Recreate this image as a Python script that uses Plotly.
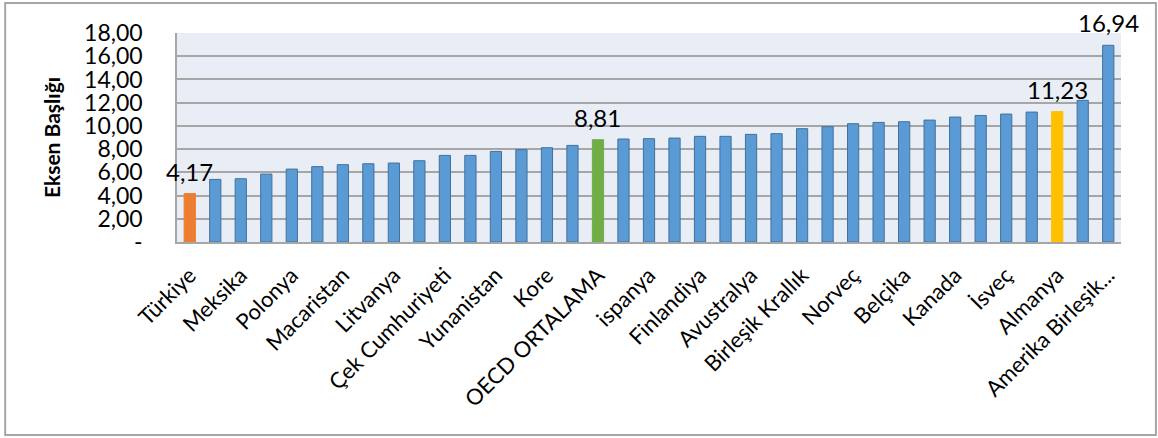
import plotly.graph_objects as go

categories = [
    "Türkiye", "Estonya", "Meksika", "Lüksemburg", "Polonya", "Letonya",
    "Macaristan", "Şili", "Litvanya", "Slovakya", "Çek Cumhuriyeti", "İsrail",
    "Yunanistan", "İrlanda", "Kore", "Slovenya", "OECD ORTALAMA", "İtalya",
    "ispanya", "Portekiz", "Finlandiya", "İzlanda", "Avustralya", "Japonya",
    "Birleşik Krallık", "Yeni Zelanda", "Norveç", "Avusturya", "Belçika",
    "Danimarka", "Kanada", "Fransa", "İsveç", "Hollanda", "Almanya", "İsviçre",
    "Amerika Birleşik Devletleri",
]
values = [
    4.17, 5.39, 5.45, 5.85, 6.28, 6.49, 6.66, 6.74, 6.80, 7.00, 7.46, 7.46,
    7.80, 7.95, 8.12, 8.32, 8.81, 8.87, 8.90, 8.95, 9.10, 9.10, 9.27, 9.33,
    9.76, 9.93, 10.19, 10.30, 10.36, 10.50, 10.76, 10.90, 11.02, 11.19, 11.23,
    12.20, 16.94,
]
# labels shown on the axis (every other category)
shown_ticks = categories[::2]
shown_text = [c if c != "Amerika Birleşik Devletleri" else "Amerika Birleşik..." for c in shown_ticks]
highlight = {"Türkiye": "#ED7D31", "OECD ORTALAMA": "#70AD47", "Almanya": "#FFC000"}
labelled = ["Türkiye", "OECD ORTALAMA", "Almanya", "Amerika Birleşik Devletleri"]
y_ticks = [0, 2, 4, 6, 8, 10, 12, 14, 16, 18]
y_ticktext = ["-", "2,00", "4,00", "6,00", "8,00", "10,00", "12,00", "14,00", "16,00", "18,00"]

colors = [highlight.get(c, "#5B9BD5") for c in categories]
lines = [highlight.get(c, "#41719C") for c in categories]

FONT = "Lato, 'Open Sans', sans-serif"

fig = go.Figure(go.Bar(
    x=categories, y=values,
    marker=dict(color=colors, line=dict(color=lines, width=1)),
    hoverinfo="x+y",
))

for c in labelled:
    v = values[categories.index(c)]
    fig.add_annotation(x=c, y=v, text=f"{v:.2f}".replace(".", ","),
                       showarrow=False, yanchor="bottom", yshift=6,
                       font=dict(family=FONT, size=24, color="#000000"))

# outer chart border
fig.add_shape(type="rect", xref="paper", yref="paper",
              x0=-0.182, x1=1.037, y0=-0.923, y1=1.143,
              line=dict(color="#A6A6A6", width=2), fillcolor="rgba(0,0,0,0)", layer="below")

fig.update_layout(
    width=1158, height=438,
    margin=dict(l=177, r=37, t=33, b=196, autoexpand=False),
    paper_bgcolor="#FFFFFF",
    plot_bgcolor="#E9EDF5",
    bargap=0.56,
    showlegend=False,
    font=dict(family=FONT, color="#000000"),
)
fig.update_xaxes(
    tickmode="array", tickvals=shown_ticks, ticktext=shown_text,
    tickangle=-45, tickfont=dict(family=FONT, size=22),
    showline=True, linecolor="#A6A6A6", linewidth=1.5,
    ticks="", showgrid=False, ticklabelstandoff=10, automargin=False,
    range=[-0.5, len(categories) - 0.5],
)
fig.update_yaxes(
    range=[0, 18], tickmode="array", tickvals=y_ticks, ticktext=y_ticktext,
    tickfont=dict(family=FONT, size=23),
    gridcolor="#A6A6A6", gridwidth=1.5,
    showline=True, linecolor="#A6A6A6", linewidth=1.5,
    zeroline=False, ticks="", ticklabelstandoff=28, automargin=False,
    title=dict(text="<b>Eksen Başlığı</b>", font=dict(family=FONT, size=21), standoff=18),
)

fig.write_html("out.html")
